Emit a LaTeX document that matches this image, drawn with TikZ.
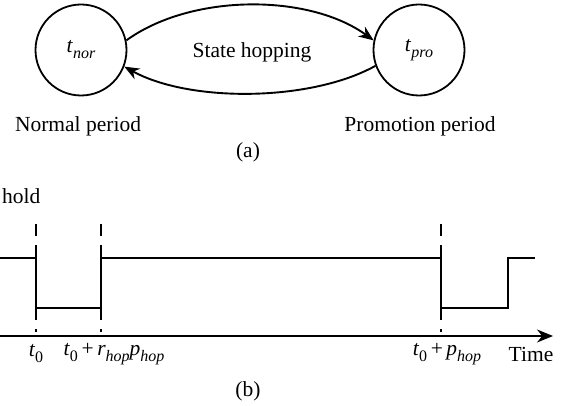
\documentclass[tikz,border=0pt]{standalone}
\usepackage{fontspec}
\setmainfont{Liberation Serif}
\usetikzlibrary{arrows.meta}
\newcommand{\vr}[1]{\textit{#1}}
% subscript a little larger than the default script size
\newcommand{\sub}[1]{\raisebox{-0.28em}{\fontsize{16}{18}\selectfont #1}}
\begin{document}
\begin{tikzpicture}[x=1pt,y=-1pt,
  every node/.style={font=\fontsize{21.5}{26}\selectfont},
  state/.style={draw,circle,line width=1.8pt,inner sep=0pt,minimum size=91pt},
  hop/.style={line width=1.9pt,-{Stealth[length=15pt,width=12pt]}},
  signal/.style={line width=1.8pt},
  marker/.style={line width=2.1pt,dash pattern=on 12pt off 9pt},
  axis/.style={line width=1.8pt,-{Stealth[length=16pt,width=13pt]}}]
\useasboundingbox (0,0) rectangle (565,406);

% (a) two states linked by hopping transitions
\node[state] (nor) at (81,50) {\vr{t}\sub{\vr{nor}}};
\node[state] (pro) at (419,50) {\vr{t}\sub{\vr{pro}}};
\node (hoplbl) at (252,52) {State hopping};
\node (norlbl) at (78,126) {Normal period};
\node (prolbl) at (420,126) {Promotion period};
\node (capa) at (248,152) {(a)};
\draw[hop] (nor.12) .. controls +(65,-47) and +(-65,-47) .. (pro.168);
\draw[hop] (pro.200) .. controls +(-65,36) and +(65,36) .. (nor.339);

% (b) threshold signal over time
\node[anchor=west,inner sep=0pt] (thr) at (2,196) {hold};
\coordinate (s0) at (0,258);
\coordinate (s1) at (36,258);
\coordinate (s2) at (36,308);
\coordinate (s3) at (101,308);
\coordinate (s4) at (101,258);
\coordinate (s5) at (441,258);
\coordinate (s6) at (441,308);
\coordinate (s7) at (508,308);
\coordinate (s8) at (508,258);
\coordinate (s9) at (535,258);
\draw[signal] (s0) -- (s1) -- (s2) -- (s3) -- (s4) -- (s5) -- (s6) -- (s7) -- (s8) -- (s9);

\coordinate (ax0) at (0,336);
\coordinate (ax1) at (553,336);
\draw[axis] (ax0) -- (ax1);

\foreach \xx/\nm in {36/m1,101/m2,441/m3}{
  \coordinate (\nm top) at (\xx,224);
  \coordinate (\nm bot) at (\xx,332);
  \draw[marker] (\nm top) -- (\nm bot);
}

\node (l0) at (36,354) {\vr{t}\sub{0}};
\node (l1) at (114,354) {\vr{t}\sub{0}\,+\,\vr{r}\sub{\vr{hop}}\vr{p}\sub{\vr{hop}}};
\node (l2) at (447,354) {\vr{t}\sub{0}\,+\,\vr{p}\sub{\vr{hop}}};
\node (ltime) at (531,354) {Time};
\node (capb) at (248,391) {(b)};
\end{tikzpicture}
\end{document}
